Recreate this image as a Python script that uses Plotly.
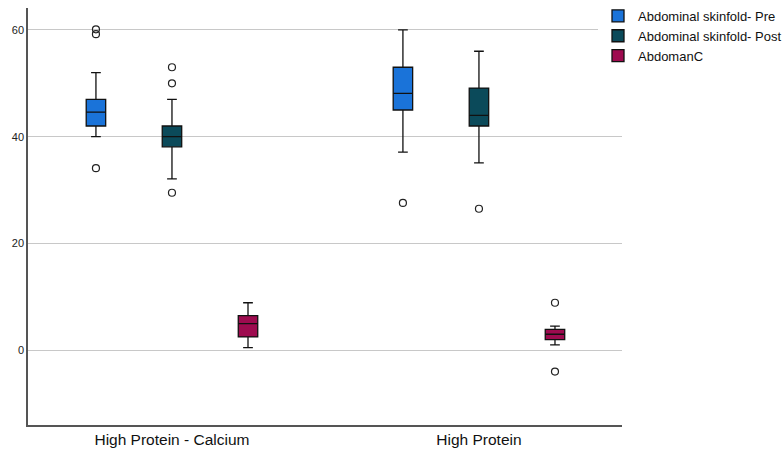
import plotly.graph_objects as go

groups = ["High Protein - Calcium", "High Protein"]
series = ["Abdominal skinfold- Pre", "Abdominal skinfold- Post", "AbdomanC"]
colors = ["#1a73d9", "#0b4a5a", "#9e0b4f"]
NA = float("nan")

# Abdominal skinfold - Pre
pre_lower = [40.0, 37.1]
pre_q1 = [42.0, 45.0]
pre_median = [44.6, 48.1]
pre_q3 = [47.0, 53.0]
pre_upper = [52.0, 60.0]
pre_outliers = [[60.1, 59.2, 34.1], [27.6]]

# Abdominal skinfold - Post
post_lower = [32.1, 35.1]
post_q1 = [38.1, 42.0]
post_median = [40.0, 44.0]
post_q3 = [42.0, 49.1]
post_upper = [47.0, 56.0]
post_outliers = [[53.0, 50.0, 29.5], [26.5]]

# AbdomanC
c_lower = [0.5, 1.0]
c_q1 = [2.5, 2.0]
c_median = [5.0, 3.0]
c_q3 = [6.5, 3.9]
c_upper = [8.9, 4.5]
c_outliers = [[NA], [8.9, -4.0]]

stats = [
    (pre_lower, pre_q1, pre_median, pre_q3, pre_upper, pre_outliers),
    (post_lower, post_q1, post_median, post_q3, post_upper, post_outliers),
    (c_lower, c_q1, c_median, c_q3, c_upper, c_outliers),
]

fig = go.Figure()
for name, col, (lo, q1, med, q3, up, outl) in zip(series, colors, stats):
    fig.add_trace(go.Box(
        name=name,
        x=groups,
        y=outl,
        q1=q1, median=med, q3=q3,
        lowerfence=lo, upperfence=up,
        orientation="v",
        boxpoints="outliers",
        jitter=0, pointpos=0,
        fillcolor=col,
        line=dict(color="#111111", width=1.3),
        whiskerwidth=0.5,
        marker=dict(symbol="circle-open", color="#222222", size=7,
                    line=dict(width=1.2)),
        hoverinfo="skip",
    ))

fig.update_layout(
    width=784, height=450,
    margin=dict(l=28, r=162, t=8, b=25, autoexpand=False),
    paper_bgcolor="white", plot_bgcolor="white",
    boxmode="group", boxgap=0.257, boxgroupgap=0.744,
    font=dict(family="Liberation Sans, Arial, sans-serif", color="#222222", size=12),
    showlegend=True,
    legend=dict(x=0.9596, y=1.017, xanchor="left", yanchor="top",
                font=dict(size=13, color="#111111"),
                bgcolor="rgba(255,255,255,1)", itemwidth=30,
                borderwidth=0, tracegroupgap=0),
    xaxis=dict(
        type="category",
        range=[-0.469, 1.466],
        showline=True, linecolor="#555555", linewidth=1.5,
        showgrid=False, ticks="", zeroline=False,
        tickfont=dict(size=15.5, color="#111111"),
        automargin=False,
    ),
    yaxis=dict(
        range=[-14, 64.1],
        tickvals=[0, 20, 40, 60],
        showline=True, linecolor="#555555", linewidth=1.5,
        showgrid=True, gridcolor="#c8c8c8", gridwidth=1.2,
        zeroline=False, ticks="",
        tickfont=dict(size=11, color="#222222"),
        automargin=False,
    ),
)

fig.write_html("out.html", config={"displayModeBar": False},
               post_script="document.body.style.margin='0';")
